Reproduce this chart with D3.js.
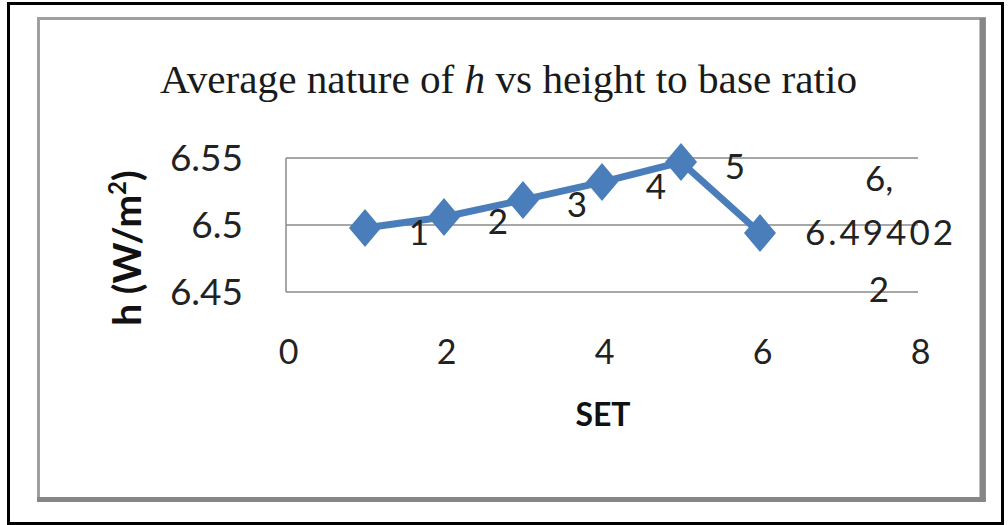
<!DOCTYPE html>
<html>
<head>
<meta charset="utf-8">
<script src="https://cdn.jsdelivr.net/npm/d3@7/dist/d3.min.js"></script>
<style>
  html, body { margin: 0; padding: 0; background: #fff; }
  svg { display: block; }
</style>
</head>
<body>
<svg id="chart" width="1008" height="525"></svg>
<script>
// Average heat transfer coefficient per set
const sets = [1, 2, 3, 4, 5, 6];
const hValues = [6.4978, 6.506, 6.5187, 6.532, 6.547, 6.494022];
const xTicks = [0, 2, 4, 6, 8];
const yTicks = [6.45, 6.5, 6.55];
const yTickLabels = ["6.45", "6.5", "6.55"];

const svg = d3.select("#chart");
const W = 1008, H = 525;

svg.append("rect").attr("width", W).attr("height", H).attr("fill", "#fff");

// outer black frame
const black = svg.append("g").attr("fill", "#000");
black.append("rect").attr("x", 7).attr("y", 2).attr("width", 997).attr("height", 3);
black.append("rect").attr("x", 7).attr("y", 522).attr("width", 997).attr("height", 3);
black.append("rect").attr("x", 7).attr("y", 2).attr("width", 3).attr("height", 523);
black.append("rect").attr("x", 1001).attr("y", 2).attr("width", 3).attr("height", 523);

// chart area border (grey with heavier right/bottom edge)
svg.append("rect").attr("x", 38.5).attr("y", 18.5).attr("width", 946).attr("height", 481)
  .attr("fill", "none").attr("stroke", "#a0a0a0").attr("stroke-width", 3);
svg.append("line").attr("x1", 982.5).attr("x2", 982.5).attr("y1", 18).attr("y2", 502)
  .attr("stroke", "#868686").attr("stroke-width", 6);
svg.append("line").attr("x1", 37).attr("x2", 985.5).attr("y1", 499.5).attr("y2", 499.5)
  .attr("stroke", "#868686").attr("stroke-width", 5);

// scales
const x = d3.scaleLinear().domain([0, 8]).range([286, 918]);
const y = d3.scaleLinear().domain([6.45, 6.55]).range([292, 158]);

// title
const title = svg.append("text")
  .attr("x", 160).attr("y", 93)
  .attr("font-family", "'Liberation Serif', 'Times New Roman', serif")
  .attr("font-size", 40).attr("fill", "#1a1a1a")
  .attr("textLength", 697).attr("lengthAdjust", "spacingAndGlyphs");
title.append("tspan").text("Average nature of ");
title.append("tspan").attr("font-style", "italic").text("h");
title.append("tspan").text(" vs height to base ratio");

// horizontal gridlines
svg.append("g").selectAll("line").data(yTicks).join("line")
  .attr("x1", x(0)).attr("x2", x(8))
  .attr("y1", d => y(d)).attr("y2", d => y(d))
  .attr("stroke", "#8a8a8a").attr("stroke-width", 1.5);

// vertical axis line
svg.append("line").attr("x1", x(0)).attr("x2", x(0))
  .attr("y1", y(6.55)).attr("y2", y(6.45))
  .attr("stroke", "#8a8a8a").attr("stroke-width", 1.5);

// y axis tick labels
const yAxis = d3.axisLeft(y).tickValues(yTicks)
  .tickFormat((d, i) => yTickLabels[i]).tickSize(0).tickPadding(0);
const gy = svg.append("g").attr("transform", "translate(243,0)").call(yAxis);
gy.select(".domain").remove();
gy.selectAll("text")
  .attr("font-family", "Lato, 'Liberation Sans', sans-serif")
  .attr("font-size", 37).attr("fill", "#222").attr("dy", "0.35em");

// x axis tick labels
const xAxis = d3.axisBottom(x).tickValues(xTicks).tickFormat(d3.format("d"))
  .tickSize(0).tickPadding(0);
const gx = svg.append("g").attr("transform", "translate(2,352)").call(xAxis);
gx.select(".domain").remove();
gx.selectAll("text")
  .attr("font-family", "Lato, 'Liberation Sans', sans-serif")
  .attr("font-size", 34).attr("fill", "#222").attr("dy", "0.35em").attr("y", 0);

// axis titles
svg.append("text").attr("x", 603).attr("y", 415)
  .attr("text-anchor", "middle").attr("dy", "0.35em")
  .attr("font-family", "Lato, 'Liberation Sans', sans-serif")
  .attr("font-weight", "bold").attr("font-size", 32).attr("fill", "#111")
  .text("SET");

const yTitle = svg.append("text")
  .attr("transform", "translate(141,248) rotate(-90)")
  .attr("text-anchor", "middle")
  .attr("font-family", "Lato, 'Liberation Sans', sans-serif")
  .attr("font-weight", "bold").attr("font-size", 39).attr("fill", "#111");
yTitle.append("tspan").text("h (W/m");
yTitle.append("tspan").attr("font-size", 24).attr("dy", -15).text("2");
yTitle.append("tspan").attr("dy", 15).text(")");

// data series
const pts = sets.map((s, i) => ({ s, v: hValues[i] }));
const blue = "#4a7ebb";

svg.append("path").datum(pts)
  .attr("fill", "none").attr("stroke", blue).attr("stroke-width", 7)
  .attr("stroke-linejoin", "round")
  .attr("d", d3.line().x(d => x(d.s)).y(d => y(d.v)));

const diamond = "M0,-19L16,0L0,19L-16,0Z";
svg.append("g").selectAll("path").data(pts).join("path")
  .attr("transform", d => `translate(${x(d.s)},${y(d.v)})`)
  .attr("d", diamond).attr("fill", blue);

// data labels
const labelFont = "Lato, 'Liberation Sans', sans-serif";
const last = pts.length - 1;
svg.append("g").selectAll("text").data(pts.slice(0, last)).join("text")
  .attr("x", d => x(d.s) + 54).attr("y", d => y(d.v) + 5)
  .attr("text-anchor", "middle").attr("dy", "0.35em")
  .attr("font-family", labelFont).attr("font-size", 35).attr("fill", "#222")
  .text(d => d.s);

// last point shows "x, y" wrapped across lines
const lp = pts[last];
const valStr = String(lp.v);
const lines = [`${lp.s},`, valStr.slice(0, 7), valStr.slice(7)];
const lineDy = [-54, 0, 57];
svg.append("g").selectAll("text").data(lines).join("text")
  .attr("x", x(lp.s) + 119).attr("y", (d, i) => y(lp.v) + lineDy[i])
  .attr("text-anchor", "middle").attr("dy", "0.35em")
  .attr("font-family", labelFont).attr("font-size", 35).attr("fill", "#222")
  .attr("textLength", d => d.length > 3 ? 148 : null)
  .attr("lengthAdjust", "spacing")
  .text(d => d);
</script>
</body>
</html>
